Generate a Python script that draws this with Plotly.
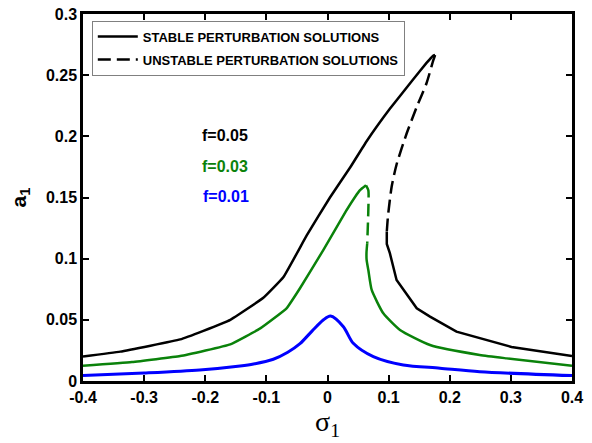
import plotly.graph_objects as go

# ---------------- data ----------------
# f = 0.05 (black)
f05_stable_up_x = [-0.4, -0.339, -0.241, -0.203, -0.159, -0.105, -0.072, -0.034, 0.004, 0.037, 0.064, 0.102, 0.140, 0.162, 0.172, 0.176]
f05_stable_up_y = [0.020, 0.024, 0.034, 0.041, 0.050, 0.068, 0.085, 0.119, 0.150, 0.1745, 0.196, 0.2225, 0.2465, 0.2600, 0.2655, 0.2665]
f05_unstable_x = [0.176, 0.173, 0.162, 0.146, 0.1296, 0.113, 0.105, 0.099, 0.097]
f05_unstable_y = [0.2665, 0.262, 0.2434, 0.224, 0.2025, 0.177, 0.159, 0.135, 0.122]
f05_stable_lo_x = [0.097, 0.097, 0.102, 0.113, 0.146, 0.1677, 0.211, 0.249, 0.301, 0.4]
f05_stable_lo_y = [0.122, 0.112, 0.1045, 0.0826, 0.0594, 0.0526, 0.0403, 0.0349, 0.0278, 0.0205]

# f = 0.03 (green)
f03_stable_up_x = [-0.4, -0.32, -0.241, -0.159, -0.110, -0.067, -0.045, -0.0069, 0.0314, 0.0532, 0.063]
f03_stable_up_y = [0.0125, 0.0155, 0.0204, 0.030, 0.043, 0.0594, 0.0758, 0.107, 0.1398, 0.156, 0.160]
f03_unstable_x = [0.063, 0.0668, 0.0668, 0.065]
f03_unstable_y = [0.160, 0.156, 0.1398, 0.1126]
f03_stable_lo_x = [0.065, 0.0638, 0.064, 0.0668, 0.0723, 0.0913, 0.1186, 0.1677, 0.249, 0.293, 0.4]
f03_stable_lo_y = [0.1126, 0.105, 0.099, 0.0907, 0.0744, 0.0553, 0.0417, 0.0294, 0.0213, 0.0185, 0.0125]

# f = 0.01 (blue)
f01_x = [-0.4, -0.3, -0.209, -0.143, -0.121, -0.0886, -0.065, -0.045, -0.025, -0.007, 0.0049, 0.026, 0.0422, 0.075, 0.124, 0.184, 0.249, 0.4]
f01_y = [0.0044, 0.0065, 0.009, 0.0123, 0.0139, 0.0178, 0.0235, 0.0305, 0.041, 0.0499, 0.0531, 0.0444, 0.0308, 0.0199, 0.0131, 0.0105, 0.0076, 0.0044]

x_ticks = [-0.4, -0.3, -0.2, -0.1, 0, 0.1, 0.2, 0.3, 0.4]
x_tick_labels = ["-0.4", "-0.3", "-0.2", "-0.1", "0", "0.1", "0.2", "0.3", "0.4"]
y_ticks = [0, 0.05, 0.1, 0.15, 0.2, 0.25, 0.3]
y_tick_labels = ["0", "0.05", "0.1", "0.15", "0.2", "0.25", "0.3"]

labels = ["f=0.05", "f=0.03", "f=0.01"]
label_x = [-0.168, -0.168, -0.166]
label_y = [0.2003, 0.175, 0.1507]

BLACK = "#000000"
GREEN = "#0a820a"
BLUE = "#0000ff"
DASH = "13px,6px"
LW = 2.5

fig = go.Figure()
fig.add_trace(go.Scatter(x=f05_stable_up_x, y=f05_stable_up_y, mode="lines",
                         line=dict(color=BLACK, width=LW, shape="spline", smoothing=0.3),
                         name="STABLE PERTURBATION SOLUTIONS", legendgroup="stable", showlegend=True))
fig.add_trace(go.Scatter(x=f05_unstable_x, y=f05_unstable_y, mode="lines",
                         line=dict(color=BLACK, width=LW, dash=DASH, shape="spline", smoothing=0.6),
                         name="UNSTABLE PERTURBATION SOLUTIONS", legendgroup="unstable", showlegend=True))
fig.add_trace(go.Scatter(x=f05_stable_lo_x, y=f05_stable_lo_y, mode="lines",
                         line=dict(color=BLACK, width=LW), showlegend=False))
fig.add_trace(go.Scatter(x=f03_stable_up_x, y=f03_stable_up_y, mode="lines",
                         line=dict(color=GREEN, width=LW, shape="spline", smoothing=0.3), showlegend=False))
fig.add_trace(go.Scatter(x=f03_unstable_x, y=f03_unstable_y, mode="lines",
                         line=dict(color=GREEN, width=LW, dash=DASH, shape="spline", smoothing=0.6),
                         showlegend=False))
fig.add_trace(go.Scatter(x=f03_stable_lo_x, y=f03_stable_lo_y, mode="lines",
                         line=dict(color=GREEN, width=LW, shape="spline", smoothing=0.5),
                         showlegend=False))
fig.add_trace(go.Scatter(x=f01_x, y=f01_y, mode="lines",
                         line=dict(color=BLUE, width=3, shape="spline", smoothing=0.8),
                         showlegend=False))

for t, xx, yy, c in zip(labels, label_x, label_y, [BLACK, GREEN, BLUE]):
    fig.add_annotation(x=xx, y=yy, text=t, showarrow=False, xref="x", yref="y",
                       font=dict(family="Liberation Sans", size=16, color=c, weight="bold"))

axis_common = dict(
    showgrid=False, zeroline=False, showline=True, linecolor="black", linewidth=2.5,
    mirror="ticks", ticks="inside", ticklen=6, tickwidth=2, tickcolor="black",
    automargin=False,
    tickfont=dict(family="Liberation Sans", size=16, color="black", weight="bold"),
)

fig.update_layout(
    width=592, height=443,
    margin=dict(l=83, r=20, t=14, b=62, autoexpand=False),
    paper_bgcolor="white", plot_bgcolor="white",
    xaxis=dict(range=[-0.4, 0.4], tickmode="array", tickvals=x_ticks, ticktext=x_tick_labels,
               title=dict(text="σ<sub>1</sub>", standoff=6,
                          font=dict(family="Liberation Serif", size=28, color="black")),
               **axis_common),
    yaxis=dict(range=[0, 0.3], tickmode="array", tickvals=y_ticks, ticktext=y_tick_labels,
               title=dict(text="a<sub>1</sub>", standoff=14,
                          font=dict(family="Liberation Sans", size=21, color="black", weight="bold")),
               **axis_common),
    legend=dict(x=0.018, y=0.982, xanchor="left", yanchor="top",
                bgcolor="white", bordercolor="#808080", borderwidth=1,
                font=dict(family="Liberation Sans", size=13, color="black", weight="bold"),
                itemwidth=40, traceorder="grouped", tracegroupgap=3),
    showlegend=True,
)

fig.write_html("out.html")
